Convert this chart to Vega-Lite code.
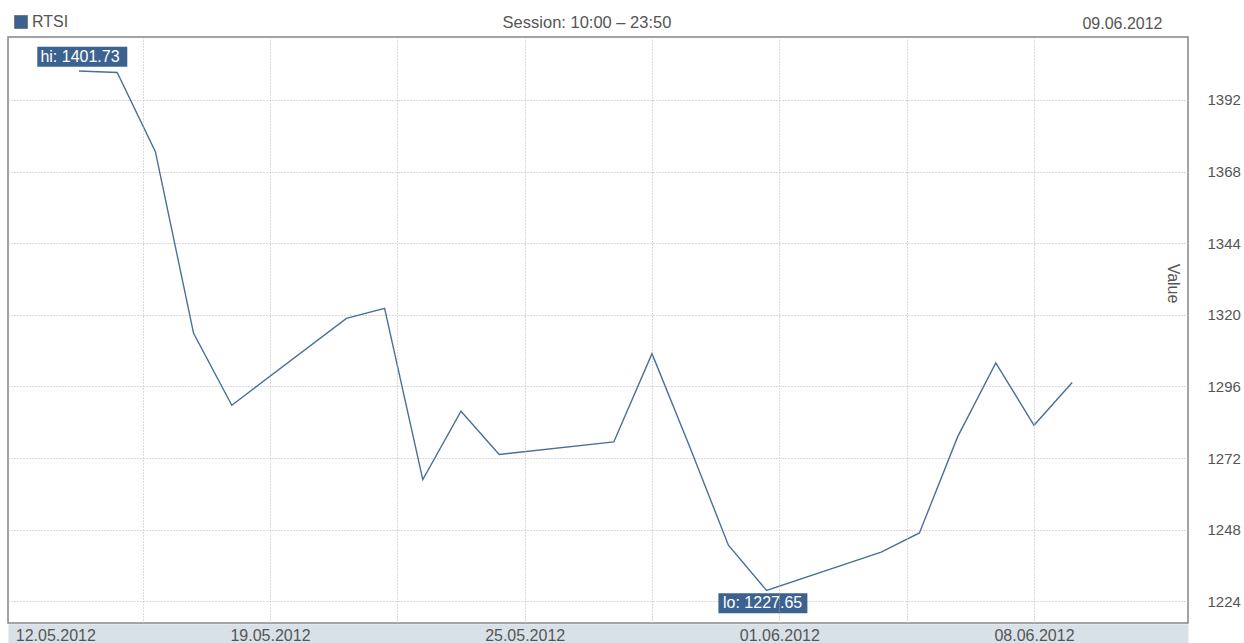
{
  "$schema": "https://vega.github.io/schema/vega-lite/v6.json",
  "width": 1180,
  "height": 586,
  "autosize": {"type": "none"},
  "padding": {"left": 8, "top": 37, "right": 56, "bottom": 20},
  "background": "white",
  "title": {
    "text": "Session: 10:00 – 23:50",
    "anchor": "middle",
    "frame": "group",
    "dx": -11,
    "offset": -30,
    "baseline": "alphabetic",
    "font": "Liberation Sans",
    "fontSize": 16.5,
    "fontWeight": "normal",
    "color": "#555555"
  },
  "config": {
    "view": {"stroke": "#858585", "strokeWidth": 1.5},
    "font": "Liberation Sans"
  },
  "datasets": {
    "rtsi": [
      {"date": "2012-05-14T00:00:00", "value": 1401.73, "series": "RTSI"},
      {"date": "2012-05-15T00:00:00", "value": 1401.2, "series": "RTSI"},
      {"date": "2012-05-16T00:00:00", "value": 1374.7, "series": "RTSI"},
      {"date": "2012-05-17T00:00:00", "value": 1313.8, "series": "RTSI"},
      {"date": "2012-05-18T00:00:00", "value": 1289.7, "series": "RTSI"},
      {"date": "2012-05-21T00:00:00", "value": 1318.8, "series": "RTSI"},
      {"date": "2012-05-22T00:00:00", "value": 1322.2, "series": "RTSI"},
      {"date": "2012-05-23T00:00:00", "value": 1264.8, "series": "RTSI"},
      {"date": "2012-05-24T00:00:00", "value": 1287.7, "series": "RTSI"},
      {"date": "2012-05-25T00:00:00", "value": 1273.2, "series": "RTSI"},
      {"date": "2012-05-28T00:00:00", "value": 1277.4, "series": "RTSI"},
      {"date": "2012-05-29T00:00:00", "value": 1307.0, "series": "RTSI"},
      {"date": "2012-05-30T00:00:00", "value": 1275.4, "series": "RTSI"},
      {"date": "2012-05-31T00:00:00", "value": 1242.8, "series": "RTSI"},
      {"date": "2012-06-01T00:00:00", "value": 1227.65, "series": "RTSI"},
      {"date": "2012-06-04T00:00:00", "value": 1240.5, "series": "RTSI"},
      {"date": "2012-06-05T00:00:00", "value": 1246.9, "series": "RTSI"},
      {"date": "2012-06-06T00:00:00", "value": 1279.1, "series": "RTSI"},
      {"date": "2012-06-07T00:00:00", "value": 1303.9, "series": "RTSI"},
      {"date": "2012-06-08T00:00:00", "value": 1283.0, "series": "RTSI"},
      {"date": "2012-06-09T00:00:00", "value": 1297.3, "series": "RTSI"}
    ]
  },
  "data": {"name": "rtsi"},
  "layer": [
    {
      "mark": {"type": "line", "strokeWidth": 1.4, "color": "#4a7099"},
      "encoding": {
        "x": {
          "field": "date",
          "type": "temporal",
          "scale": {
            "domain": [
              {"year": 2012, "month": 5, "date": 12, "hours": 3, "minutes": 24},
              {"year": 2012, "month": 6, "date": 12, "hours": 0, "minutes": 45}
            ]
          },
          "axis": {
            "orient": "bottom",
            "title": null,
            "zindex": 1,
            "values": [
              {"year": 2012, "month": 5, "date": 12, "hours": 8},
              {"year": 2012, "month": 5, "date": 15, "hours": 16},
              {"year": 2012, "month": 5, "date": 19, "hours": 0},
              {"year": 2012, "month": 5, "date": 22, "hours": 8},
              {"year": 2012, "month": 5, "date": 25, "hours": 16},
              {"year": 2012, "month": 5, "date": 29, "hours": 0},
              {"year": 2012, "month": 6, "date": 1, "hours": 8},
              {"year": 2012, "month": 6, "date": 4, "hours": 16},
              {"year": 2012, "month": 6, "date": 8, "hours": 0}
            ],
            "labelExpr": "indexof([12, 19, 25, 1, 8], date(datum.value)) >= 0 ? timeFormat(datum.value, '%d.%m.%Y') : ''",
            "labelFont": "Liberation Sans",
            "labelFontSize": 16,
            "labelColor": "#555555",
            "labelBaseline": "alphabetic",
            "labelPadding": 17.5,
            "labelFlush": 10,
            "labelOverlap": false,
            "ticks": false,
            "tickSize": 0,
            "domain": false,
            "grid": true,
            "gridColor": "#b4b4b4",
            "gridDash": [1, 2],
            "gridWidth": 1,
            "gridOpacity": {"condition": {"test": "datum.value < time(datetime(2012, 4, 13))", "value": 0}, "value": 1}
          }
        },
        "y": {
          "field": "value",
          "type": "quantitative",
          "scale": {"domain": [1216.73, 1413.11], "nice": false, "zero": false},
          "axis": {
            "orient": "right",
            "values": [1224, 1248, 1272, 1296, 1320, 1344, 1368, 1392],
            "format": "d",
            "labelFont": "Liberation Sans",
            "labelFontSize": 15,
            "labelColor": "#555555",
            "labelPadding": 19,
            "ticks": false,
            "tickSize": 0,
            "domain": false,
            "grid": true,
            "gridColor": "#b4b4b4",
            "gridDash": [1, 2],
            "gridWidth": 1,
            "title": "Value",
            "titleFont": "Liberation Sans",
            "titleFontSize": 16,
            "titleFontWeight": "normal",
            "titleColor": "#555555",
            "titleAngle": 90,
            "titleAlign": "center",
            "titleBaseline": "middle",
            "titleX": -16,
            "titleY": 246
          }
        }
      }
    },
    {
      "transform": [
        {"joinaggregate": [{"op": "max", "field": "value", "as": "vmax"}]},
        {"filter": "datum.value == datum.vmax"}
      ],
      "mark": {"type": "rect", "width": 90, "height": 20, "xOffset": 3.3, "yOffset": -14.3},
      "encoding": {
        "x": {
          "field": "date",
          "type": "temporal",
          "axis": {
            "orient": "top",
            "labels": false,
            "ticks": false,
            "domain": false,
            "grid": false,
            "title": "09.06.2012",
            "titleX": 1154,
            "titleY": -9,
            "titleAlign": "right",
            "titleBaseline": "alphabetic",
            "titleFont": "Liberation Sans",
            "titleFontSize": 16,
            "titleFontWeight": "normal",
            "titleColor": "#555555"
          }
        },
        "y": {"field": "value", "type": "quantitative"},
        "color": {
          "field": "series",
          "type": "nominal",
          "scale": {"range": ["#3c6390"]},
          "legend": {
            "orient": "none",
            "legendX": 5,
            "legendY": -23,
            "title": null,
            "padding": 0,
            "symbolType": "square",
            "symbolSize": 169,
            "symbolStrokeColor": "#7a7a7a",
            "symbolStrokeWidth": 1,
            "labelFont": "Liberation Sans",
            "labelFontSize": 16,
            "labelColor": "#555555",
            "labelOffset": 3
          }
        }
      }
    },
    {
      "transform": [
        {"joinaggregate": [{"op": "max", "field": "value", "as": "vmax"}]},
        {"filter": "datum.value == datum.vmax"},
        {"calculate": "'hi: ' + format(datum.value, '.2f')", "as": "label"}
      ],
      "mark": {"type": "text", "color": "white", "font": "Liberation Sans", "fontSize": 16, "align": "center", "baseline": "middle", "xOffset": 1, "yOffset": -14.3},
      "encoding": {
        "x": {"field": "date", "type": "temporal", "axis": null},
        "y": {"field": "value", "type": "quantitative"},
        "text": {"field": "label"}
      }
    },
    {
      "transform": [
        {"joinaggregate": [{"op": "min", "field": "value", "as": "vmin"}]},
        {"filter": "datum.value == datum.vmin"}
      ],
      "mark": {"type": "rect", "width": 89, "height": 20, "xOffset": -3.7, "yOffset": 12.9},
      "encoding": {
        "x": {
          "field": "date",
          "type": "temporal",
          "axis": {
            "orient": "bottom",
            "title": null,
            "zindex": 0,
            "labels": false,
            "ticks": false,
            "grid": false,
            "domain": true,
            "domainColor": "#d9e1e8",
            "domainWidth": 20,
            "offset": 10.75
          }
        },
        "y": {"field": "value", "type": "quantitative"},
        "color": {"field": "series", "type": "nominal"}
      }
    },
    {
      "transform": [
        {"joinaggregate": [{"op": "min", "field": "value", "as": "vmin"}]},
        {"filter": "datum.value == datum.vmin"},
        {"calculate": "'lo: ' + format(datum.value, '.2f')", "as": "label"}
      ],
      "mark": {"type": "text", "color": "white", "font": "Liberation Sans", "fontSize": 16, "align": "center", "baseline": "middle", "xOffset": -4, "yOffset": 12.9},
      "encoding": {
        "x": {"field": "date", "type": "temporal", "axis": null},
        "y": {"field": "value", "type": "quantitative"},
        "text": {"field": "label"}
      }
    }
  ],
  "resolve": {"axis": {"x": "independent"}}
}
